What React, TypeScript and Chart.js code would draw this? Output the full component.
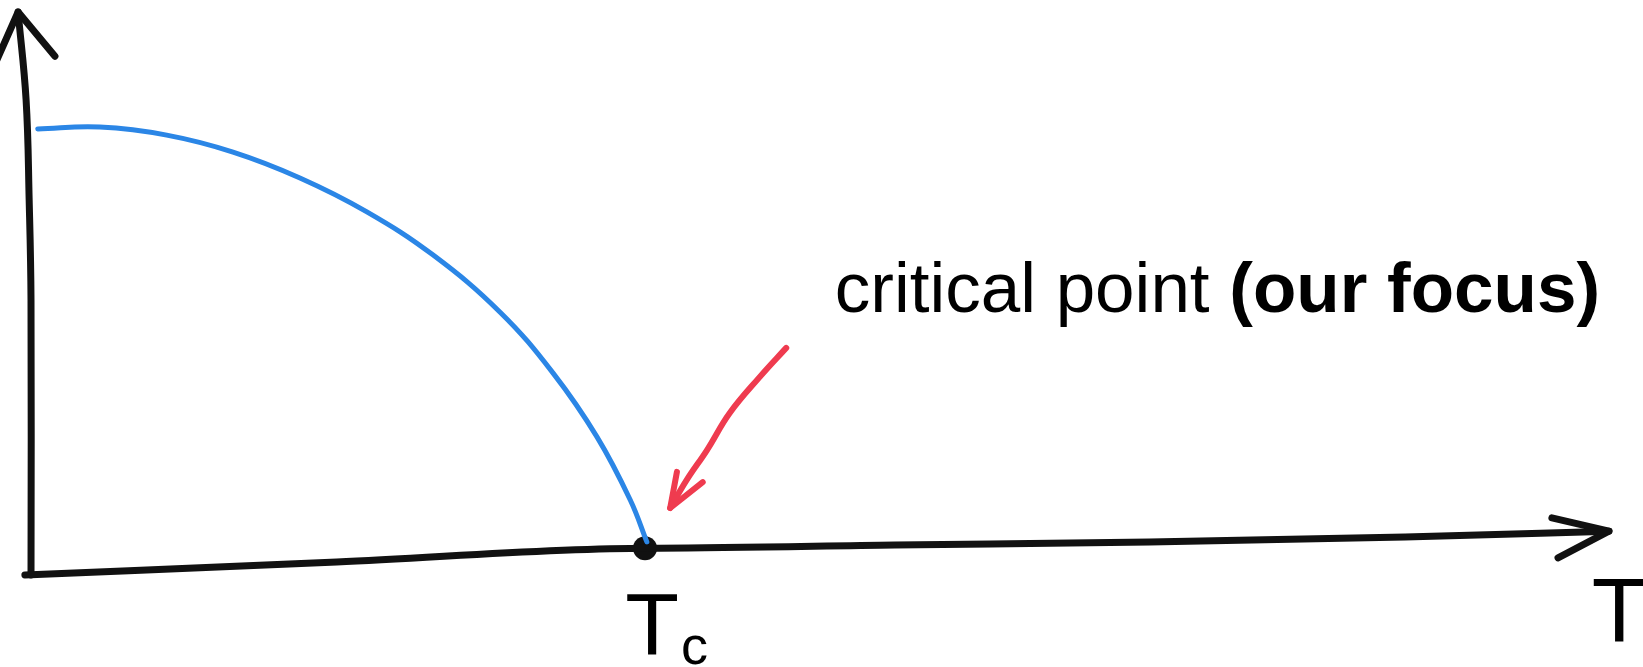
import React, { useEffect, useRef } from "react";
import { Chart, registerables } from "chart.js";

Chart.register(...registerables);

// Temperature axis: T in units of Tc; order parameter M in units of M(0)
const curveT = [0.011, 0.112, 0.221, 0.329, 0.438, 0.547, 0.655, 0.764, 0.85, 0.922, 0.976, 1.003];
const curveM = [0.998, 1.002, 0.984, 0.946, 0.888, 0.812, 0.715, 0.587, 0.451, 0.307, 0.166, 0.072];

// hand-drawn axes
const xAxisT = [-0.01, 0.498, 1.005, 1.023, 1.407, 1.822, 2.238, 2.57];
const xAxisM = [-0.002, 0.027, 0.058, 0.058, 0.065, 0.072, 0.083, 0.096];
const xHeadT = [2.477, 2.57, 2.487];
const xHeadM = [0.126, 0.096, 0.036];
const yAxisT = [0.0, 0.0, -0.003, -0.008, -0.021];
const yAxisM = [-0.002, 0.614, 0.839, 1.063, 1.26];
const yHeadT = [-0.059, -0.021, 0.039];
const yHeadM = [1.142, 1.26, 1.161];

// red pointer arrow
const arrowT = [1.041, 1.068, 1.101, 1.138, 1.187, 1.23];
const arrowM = [0.148, 0.211, 0.278, 0.361, 0.442, 0.507];
const arrowHeadT = [1.052, 1.041, 1.094];
const arrowHeadM = [0.229, 0.148, 0.206];

// critical point
const criticalT = [1.0];
const criticalM = [0.058];

// labels
const annotationText = ["critical point ", "(our focus)"];
const annotationPos = { T: 1.309, M: 0.587 };
const tcLabel = ["T", "c"];
const tcLabelPos = { T: 0.968, M: -0.18 };
const tLabel = "T";
const tLabelPos = { T: 2.542, M: -0.152 };

const X_MIN = -0.0505;
const X_MAX = 2.6254;
const Y_MIN = -0.2085;
const Y_MAX = 1.287;

const zip = (xs: number[], ys: number[]) => xs.map((x, i) => ({ x, y: ys[i] }));

const BLACK = "#111111";
const BLUE = "#2b86e6";
const RED = "#ef3b4f";
const FONT = "'Liberation Sans', Arial, Helvetica, sans-serif";

const labelsPlugin = {
  id: "sketchLabels",
  afterDatasetsDraw(chart: any) {
    const { ctx, scales } = chart;
    const xs = scales.x;
    const ys = scales.y;
    ctx.save();
    ctx.fillStyle = "#000";
    ctx.textBaseline = "alphabetic";
    ctx.textAlign = "left";

    // annotation
    let ax = xs.getPixelForValue(annotationPos.T);
    const ay = ys.getPixelForValue(annotationPos.M);
    ctx.font = `400 71px ${FONT}`;
    ctx.fillText(annotationText[0], ax, ay);
    ax += ctx.measureText(annotationText[0]).width;
    ctx.font = `700 71px ${FONT}`;
    ctx.fillText(annotationText[1], ax, ay);

    // Tc label
    const tx = xs.getPixelForValue(tcLabelPos.T);
    const ty = ys.getPixelForValue(tcLabelPos.M);
    ctx.font = `400 88px ${FONT}`;
    ctx.fillText(tcLabel[0], tx, ty);
    const tw = ctx.measureText(tcLabel[0]).width;
    ctx.font = `400 54px ${FONT}`;
    ctx.fillText(tcLabel[1], tx + tw + 2, ty + 10);

    // T label
    ctx.font = `400 90px ${FONT}`;
    ctx.fillText(tLabel, xs.getPixelForValue(tLabelPos.T), ys.getPixelForValue(tLabelPos.M));
    ctx.restore();
  },
};

const lineDs = (data: any[], color: string, width: number, mode: "mono" | "curve" | "straight") => ({
  data,
  showLine: true,
  borderColor: color,
  backgroundColor: color,
  borderWidth: width,
  pointRadius: 0,
  tension: mode === "curve" ? 0.4 : 0,
  cubicInterpolationMode: mode === "mono" ? "monotone" : "default",
  borderCapStyle: "round",
  borderJoinStyle: "round",
  fill: false,
});

export default function App() {
  const ref = useRef<HTMLCanvasElement | null>(null);

  useEffect(() => {
    document.body.style.margin = "0";
    const canvas = ref.current;
    if (!canvas) return;
    const chart = new Chart(canvas, {
      type: "scatter",
      data: {
        datasets: [
          lineDs(zip(xAxisT, xAxisM), BLACK, 7, "mono"),
          lineDs(zip(xHeadT, xHeadM), BLACK, 7, "straight"),
          lineDs(zip(yAxisT, yAxisM), BLACK, 7, "curve"),
          lineDs(zip(yHeadT, yHeadM), BLACK, 7, "straight"),
          lineDs(zip(curveT, curveM), BLUE, 5, "curve"),
          lineDs(zip(arrowT, arrowM), RED, 6, "curve"),
          lineDs(zip(arrowHeadT, arrowHeadM), RED, 6, "straight"),
          {
            data: zip(criticalT, criticalM),
            showLine: false,
            pointRadius: 12,
            pointBackgroundColor: BLACK,
            pointBorderColor: BLACK,
            pointBorderWidth: 0,
          } as any,
        ] as any,
      },
      options: {
        animation: false,
        responsive: false,
        maintainAspectRatio: false,
        layout: { padding: 0, autoPadding: false },
        plugins: { legend: { display: false }, tooltip: { enabled: false } },
        events: [],
        scales: {
          x: { type: "linear", min: X_MIN, max: X_MAX, display: false },
          y: { type: "linear", min: Y_MIN, max: Y_MAX, display: false },
        },
      } as any,
      plugins: [labelsPlugin],
    });
    return () => chart.destroy();
  }, []);

  return (
    <div style={{ width: 1643, height: 667, background: "#fff" }}>
      <canvas ref={ref} width={1643} height={667} style={{ display: "block" }} />
    </div>
  );
}
